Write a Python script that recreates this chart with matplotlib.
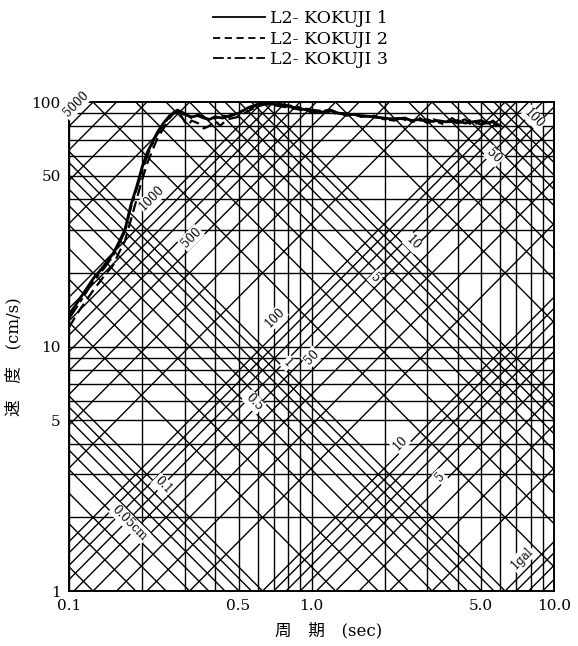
import numpy as np
import matplotlib.pyplot as plt
from matplotlib.lines import Line2D

# --- data ---
period_1 = [0.10, 0.11, 0.126, 0.14, 0.152, 0.16, 0.17, 0.18, 0.19, 0.20, 0.21, 0.22, 0.231, 0.245,
            0.26, 0.27, 0.28, 0.30, 0.32, 0.34, 0.36, 0.38, 0.40, 0.43, 0.46, 0.50, 0.55, 0.60, 0.65,
            0.70, 0.75, 0.80, 0.90, 1.0, 1.1, 1.2, 1.3, 1.4, 1.5, 1.6, 1.8, 2.0, 2.2, 2.4, 2.6, 2.8,
            3.0, 3.3, 3.6, 4.0, 4.3, 4.6, 5.0, 5.3, 5.6, 6.0]
vel_1 = [13.5, 15.5, 19.0, 21.5, 24.0, 26.5, 30.0, 38.0, 45.0, 54.0, 62.0, 68.0, 75.0, 82.0,
         88.0, 90.0, 91.0, 89.0, 87.0, 88.0, 86.0, 85.0, 87.0, 86.0, 88.0, 90.0, 95.0, 98.0, 99.0,
         98.0, 97.0, 96.0, 94.0, 92.0, 91.0, 92.0, 90.0, 89.0, 89.0, 88.0, 87.0, 86.0, 85.0, 86.0,
         84.0, 85.0, 83.0, 84.0, 83.0, 84.0, 82.0, 83.0, 84.0, 82.0, 83.0, 80.0]

period_2 = [0.10, 0.11, 0.126, 0.14, 0.152, 0.16, 0.17, 0.18, 0.19, 0.20, 0.21, 0.22, 0.23, 0.245,
            0.26, 0.27, 0.28, 0.29, 0.30, 0.31, 0.32, 0.34, 0.36, 0.38, 0.40, 0.42, 0.45, 0.50, 0.55,
            0.60, 0.65, 0.70, 0.80, 0.90, 1.0, 1.1, 1.2, 1.3, 1.4, 1.5, 1.6, 1.8, 2.0, 2.2, 2.4, 2.6,
            2.8, 3.0, 3.2, 3.5, 3.8, 4.0, 4.3, 4.6, 5.0, 5.3, 5.6, 6.0]
vel_2 = [12.0, 14.0, 17.0, 19.5, 21.5, 24.0, 27.0, 33.0, 40.0, 48.0, 56.0, 63.0, 70.0, 78.0,
         86.0, 90.0, 92.0, 88.0, 83.0, 80.0, 84.0, 82.0, 78.0, 80.0, 84.0, 80.0, 85.0, 87.0, 92.0,
         96.0, 98.0, 97.0, 95.0, 93.0, 91.0, 92.0, 93.0, 90.0, 88.0, 89.0, 87.0, 88.0, 85.0, 84.0,
         87.0, 83.0, 86.0, 82.0, 85.0, 81.0, 86.0, 83.0, 85.0, 80.0, 84.0, 81.0, 84.0, 79.0]

period_3 = [0.10, 0.11, 0.126, 0.14, 0.152, 0.16, 0.17, 0.18, 0.19, 0.20, 0.21, 0.22, 0.231, 0.245,
            0.26, 0.27, 0.28, 0.30, 0.32, 0.34, 0.36, 0.38, 0.40, 0.43, 0.46, 0.50, 0.55, 0.60, 0.65,
            0.70, 0.80, 0.90, 1.0, 1.1, 1.2, 1.4, 1.6, 1.8, 2.0, 2.3, 2.6, 3.0, 3.3, 3.6, 4.0, 4.5,
            5.0, 5.5, 6.0]
vel_3 = [13.0, 15.0, 18.5, 21.0, 23.5, 26.0, 29.5, 37.0, 44.0, 52.0, 60.0, 67.0, 74.0, 81.0,
         87.0, 91.0, 93.0, 90.0, 86.0, 89.0, 87.0, 84.0, 86.0, 88.0, 87.0, 91.0, 94.0, 97.0, 98.0,
         99.0, 97.0, 95.0, 93.0, 92.0, 90.0, 90.0, 88.0, 87.0, 85.0, 86.0, 83.0, 85.0, 82.0, 84.0,
         82.0, 84.0, 81.0, 83.0, 78.0]

# tripartite grid values
disp_values = [n * 10.0 ** k for k in range(-2, 3) for n in range(1, 10)]   # cm
acc_values = [n * 10.0 ** k for k in range(-1, 4) for n in range(1, 10)]    # gal

# labels of the diagonal lines: (period, velocity, text)
disp_labels = [(0.178, 1.90, "0.05cm"), (0.244, 2.71, "0.1"), (0.579, 5.93, "0.5"),
               (0.80, 8.56, "1"), (1.83, 19.1, "5"), (2.62, 26.5, "10"),
               (5.66, 60.1, "50"), (8.27, 86.0, "100")]
acc_labels = [(0.107, 98.0, "5000"), (0.220, 40.5, "1000"), (0.319, 27.8, "500"),
              (0.707, 13.1, "100"), (1.0, 9.06, "50"), (2.32, 4.03, "10"),
              (3.39, 2.93, "5"), (7.38, 1.36, "1gal")]

x_ticks = [0.1, 0.5, 1.0, 5.0, 10.0]
x_ticklabels = ["0.1", "0.5", "1.0", "5.0", "10.0"]
y_ticks = [1, 5, 10, 50, 100]
y_ticklabels = ["1", "5", "10", "50", "100"]

serif = ['DejaVu Serif', 'Noto Sans CJK JP']
plt.rcParams['font.family'] = serif

fig = plt.figure(figsize=(5.78, 6.46), dpi=100)
ax = fig.add_axes([0.1194, 0.0851, 0.8391, 0.7569])
ax.set_xscale('log')
ax.set_yscale('log')
ax.set_xlim(0.1, 10)
ax.set_ylim(1, 100)

# rectangular log grid
for t in [n * 10.0 ** k for k in (-1, 0) for n in range(1, 10)]:
    ax.axvline(t, color='black', lw=1.0, zorder=1)
for v in [n * 10.0 ** k for k in (0, 1) for n in range(1, 10)]:
    ax.axhline(v, color='black', lw=1.0, zorder=1)

# diagonal lines: displacement (SV = 2 pi D / T) and acceleration (SV = A T / 2 pi)
t_ends = np.array([0.1, 10.0])
for d in disp_values:
    ax.plot(t_ends, 2 * np.pi * d / t_ends, color='black', lw=1.0, zorder=1)
for a in acc_values:
    ax.plot(t_ends, a * t_ends / (2 * np.pi), color='black', lw=1.0, zorder=1)

for t, v, txt in disp_labels:
    ax.text(t, v, txt, rotation=-45, ha='center', va='center', fontsize=8.5,
            bbox=dict(facecolor='white', edgecolor='none', pad=0.8), zorder=3, clip_on=False)
for t, v, txt in acc_labels:
    ax.text(t, v, txt, rotation=45, ha='center', va='center', fontsize=8.5,
            bbox=dict(facecolor='white', edgecolor='none', pad=0.8), zorder=3, clip_on=False)

# spectra
ax.plot(period_1, vel_1, color='black', lw=2.0, ls='-', zorder=4)
ax.plot(period_2, vel_2, color='black', lw=1.6, ls=(0, (5, 2.5)), zorder=4)
ax.plot(period_3, vel_3, color='black', lw=1.6, ls=(0, (7, 2, 2, 2)), zorder=4)

ax.set_xticks(x_ticks)
ax.set_xticklabels(x_ticklabels)
ax.set_yticks(y_ticks)
ax.set_yticklabels(y_ticklabels)
ax.minorticks_off()
ax.tick_params(length=0, labelsize=11, pad=6)
for s in ax.spines.values():
    s.set_linewidth(1.4)

ax.set_xlabel("周　期　(sec)", fontsize=12)
ax.set_ylabel("速　度　(cm/s)", fontsize=12)
ax.xaxis.set_label_coords(0.535, -0.064)
ax.yaxis.set_label_coords(-0.097, 0.48)

handles = [Line2D([], [], color='black', lw=1.3, ls='-'),
           Line2D([], [], color='black', lw=1.3, ls=(0, (4, 2.5))),
           Line2D([], [], color='black', lw=1.3, ls=(0, (6, 2, 2, 2)))]
fig.legend(handles, ["L2- KOKUJI 1", "L2- KOKUJI 2", "L2- KOKUJI 3"],
           loc='upper center', bbox_to_anchor=(0.52, 1.008), frameon=False, fontsize=12.5,
           handlelength=3.0, handletextpad=0.3, labelspacing=0.2)

fig.savefig("out.png", dpi=100)
